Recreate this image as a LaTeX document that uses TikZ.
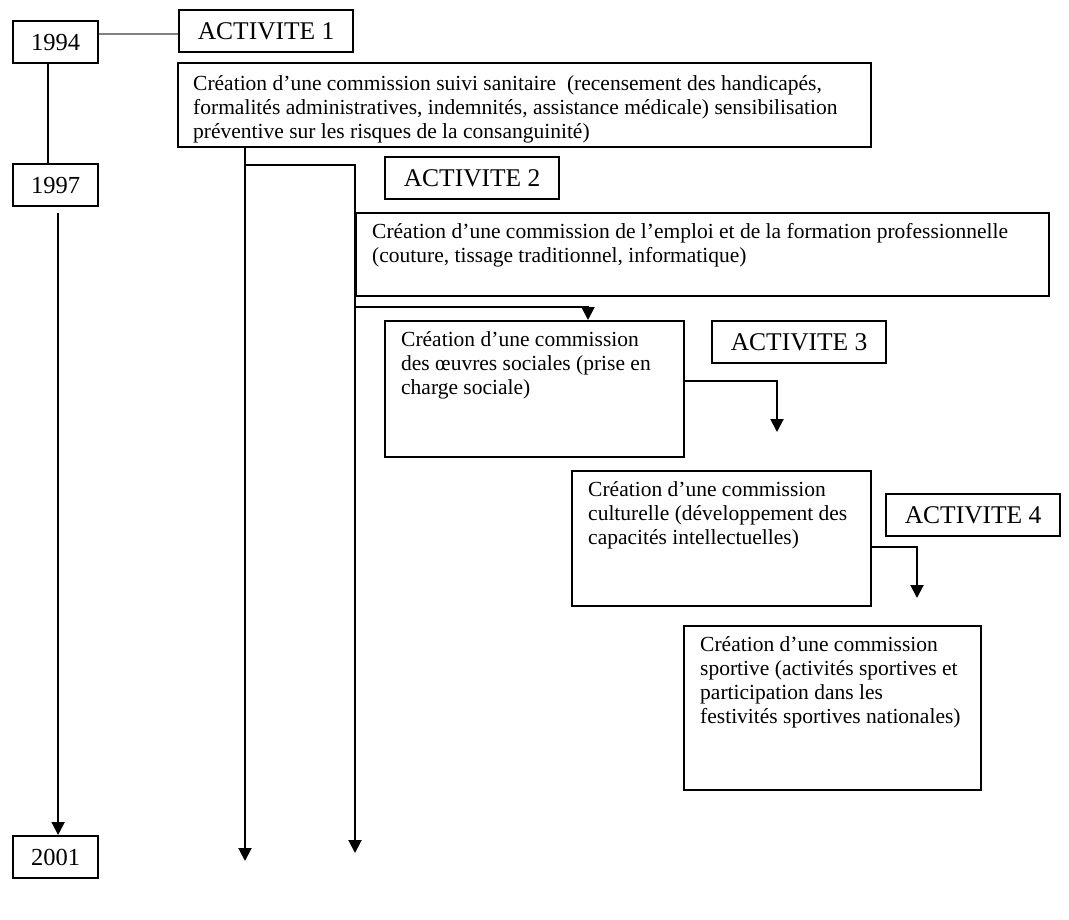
\documentclass[tikz,border=0pt]{standalone}
\usepackage{fontspec}
\setmainfont{Liberation Serif}
\usetikzlibrary{arrows.meta}

\begin{document}
\begin{tikzpicture}[x=1pt, y=-1pt,
        boite/.style={draw, line width=2.2pt, inner sep=0pt, anchor=north west},
        annee/.style={boite, minimum width=85pt, minimum height=42pt, font=\fontsize{24.5}{28}\selectfont},
        activite/.style={boite, minimum width=174pt, minimum height=42pt, font=\fontsize{25.5}{30}\selectfont},
        texte/.style={anchor=north west, inner sep=0pt, align=left, font=\fontsize{21.5}{24}\selectfont},
        fleche/.style={line width=2pt, -{Triangle[length=13pt, width=13pt]}},
        lien/.style={line width=2pt}]
    \useasboundingbox (0,0) rectangle (1069,919);

    % annees
    \node[annee] (y94) at (12,20) {1994};
    \node[annee] (y97) at (12,163) {1997};
    \node[annee] (y01) at (12,835) {2001};

    % activites
    \node[activite] (a1) at (178,9) {ACTIVITE 1};
    \node[activite] (a2) at (384,156) {ACTIVITE 2};
    \node[activite] (a3) at (711,320) {ACTIVITE 3};
    \node[activite] (a4) at (885,493) {ACTIVITE 4};

    % commissions
    \node[boite, minimum width=693pt, minimum height=84pt] (b1) at (177,62) {};
    \begin{scope}
        % la derniere ligne est coupee par le cadre
        \clip (b1.north west) rectangle ([yshift=3pt]b1.south east);
        \node[texte] (t1) at ([shift={(16,13)}]b1.north west) {Création d’une commission suivi sanitaire~ (recensement des handicapés,\\formalités administratives, indemnités, assistance médicale) sensibilisation\\préventive sur les risques de la consanguinité)};
    \end{scope}

    \node[boite, minimum width=693pt, minimum height=83pt] (b2) at (355,212) {};
    \node[texte] (t2) at ([shift={(17,11)}]b2.north west) {Création d’une commission de l’emploi et de la formation professionnelle\\(couture, tissage traditionnel, informatique)};

    \node[boite, minimum width=299pt, minimum height=136pt] (b3) at (384,320) {};
    \node[texte] (t3) at ([shift={(17,11)}]b3.north west) {Création d’une commission\\des œuvres sociales (prise en\\charge sociale)};

    \node[boite, minimum width=299pt, minimum height=135pt] (b4) at (571,470) {};
    \node[texte] (t4) at ([shift={(17,11)}]b4.north west) {Création d’une commission\\culturelle (développement des\\capacités intellectuelles)};

    \node[boite, minimum width=297pt, minimum height=164pt] (b5) at (683,625) {};
    \node[texte] (t5) at ([shift={(17,11)}]b5.north west) {Création d’une commission\\sportive (activités sportives et\\participation dans les\\festivités sportives nationales)};

    % ligne du temps
    \draw[line width=1.4pt, gray] ([yshift=-3pt]a1.west) -- ([yshift=-3pt]a1.west -| y94.east);
    \draw[lien] ([xshift=-7.5pt]y94.south) -- ([xshift=-7.5pt]y97.north);
    \draw[fleche] ([xshift=2.5pt, yshift=-6pt]y97.south) -- ([xshift=2.5pt]y01.north);

    % branches
    \coordinate (fin1) at (245,861);
    \coordinate (fin2) at (355,853);
    \draw[fleche] (fin1 |- b1.south) -- (fin1);
    \draw[fleche] (fin1 |- 0,165) -| (fin2);
    \draw[fleche] (fin2 |- 0,307) -| (b3.north -| 588,0);
    \draw[fleche] (b3.east |- 0,381) -| (777,432);
    \draw[fleche] (b4.east |- 0,547) -| (917,598);
\end{tikzpicture}
\end{document}
